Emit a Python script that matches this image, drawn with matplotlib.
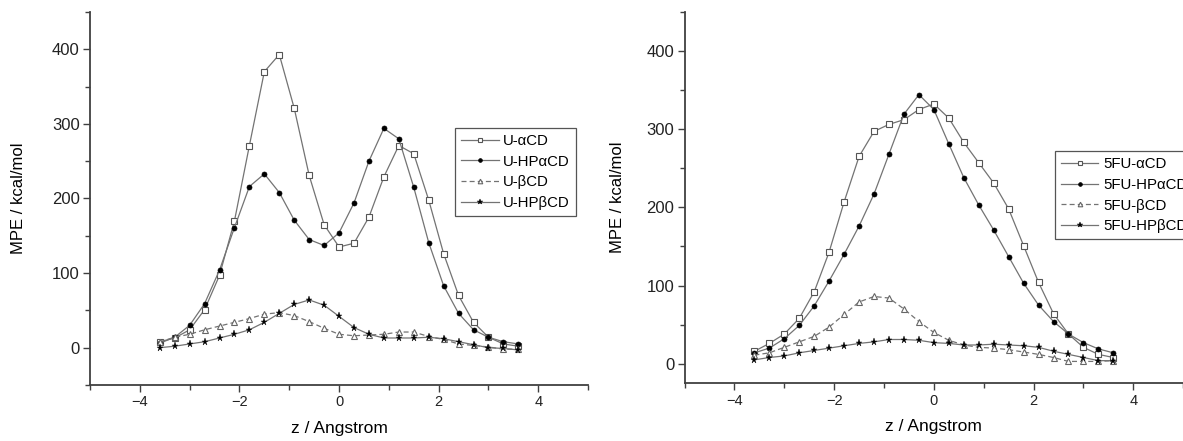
import numpy as np
import matplotlib
matplotlib.use("Agg")
import matplotlib.pyplot as plt
from matplotlib.ticker import MultipleLocator

plt.rcParams["font.family"] = ["Liberation Sans", "DejaVu Sans"]

# z positions shared by every series (Angstrom)
z = [-3.6, -3.3, -3.0, -2.7, -2.4, -2.1, -1.8, -1.5, -1.2, -0.9, -0.6, -0.3, 0.0,
     0.3, 0.6, 0.9, 1.2, 1.5, 1.8, 2.1, 2.4, 2.7, 3.0, 3.3, 3.6]

# uracil complexes
u_acd = [8, 13, 24, 51, 97, 170, 271, 370, 393, 321, 231, 165, 135,
         140, 175, 229, 271, 260, 198, 126, 70, 34, 14, 5, 2]
u_hpacd = [6, 14, 30, 59, 104, 161, 216, 233, 208, 171, 145, 137, 154,
           194, 250, 294, 280, 215, 141, 83, 46, 24, 14, 8, 5]
u_bcd = [8, 14, 18, 24, 29, 34, 39, 45, 47, 43, 35, 26, 18,
         16, 17, 18, 21, 21, 15, 11, 5, 3, 1, -2, -2]
u_hpbcd = [0, 2, 5, 8, 13, 18, 24, 34, 46, 58, 64, 57, 42,
           27, 18, 13, 13, 13, 14, 12, 8, 4, 0, -1, -3]

# 5-fluorouracil complexes
fu_acd = [16, 26, 38, 58, 92, 143, 207, 265, 297, 306, 312, 325, 332,
          314, 283, 257, 231, 198, 151, 104, 64, 38, 21, 12, 8]
fu_hpacd = [14, 20, 32, 49, 74, 106, 140, 176, 217, 268, 319, 344, 325,
            281, 238, 203, 171, 137, 103, 75, 54, 38, 27, 19, 14]
fu_bcd = [11, 14, 21, 28, 35, 47, 63, 79, 86, 84, 70, 54, 40,
          30, 24, 21, 20, 18, 15, 12, 8, 3, 3, 3, 4]
fu_hpbcd = [5, 8, 10, 14, 17, 20, 23, 26, 28, 31, 31, 30, 27,
            26, 24, 24, 25, 24, 23, 21, 16, 12, 8, 4, 4]

left_labels = ["U-\u03b1CD", "U-HP\u03b1CD", "U-\u03b2CD", "U-HP\u03b2CD"]
right_labels = ["5FU-\u03b1CD", "5FU-HP\u03b1CD", "5FU-\u03b2CD", "5FU-HP\u03b2CD"]

LINE = "#737373"
AXIS = "#404040"

styles = [
    dict(marker="s", mfc="white", mec="#555555", ms=3.8, mew=0.8, ls="-"),
    dict(marker="o", mfc="black", mec="black", ms=3.6, mew=0.5, ls="-"),
    dict(marker="^", mfc="white", mec="#666666", ms=4.4, mew=0.8, ls=(0, (4, 2.5))),
    dict(marker="*", mfc="black", mec="black", ms=5.2, mew=0.3, ls="-"),
]


def style_axes(ax, ylim, ylabel_x):
    ax.set_xlim(-5, 5)
    ax.set_ylim(*ylim)
    ax.spines["top"].set_visible(False)
    ax.spines["right"].set_visible(False)
    for s in ("left", "bottom"):
        ax.spines[s].set_color(AXIS)
        ax.spines[s].set_linewidth(1.3)
    ax.xaxis.set_major_locator(MultipleLocator(2))
    ax.xaxis.set_minor_locator(MultipleLocator(1))
    ax.yaxis.set_major_locator(MultipleLocator(100))
    ax.yaxis.set_minor_locator(MultipleLocator(50))
    ax.tick_params(which="both", direction="out", color=AXIS, width=1.0,
                   labelcolor="#222222")
    ax.tick_params(which="major", length=5, pad=2.5)
    ax.tick_params(which="minor", length=3.5)
    ax.tick_params(axis="x", labelsize=10.5)
    ax.tick_params(axis="y", labelsize=12)
    ax.set_xlabel("z / Angstrom", fontsize=12.5, labelpad=8)
    ax.set_ylabel("MPE / kcal/mol", fontsize=12)
    ax.yaxis.set_label_coords(ylabel_x, 0.5)


def draw(ax, series, labels):
    for ys, lab, st in zip(series, labels, styles):
        ax.plot(z, ys, color=LINE, lw=0.9, label=lab, clip_on=False, **st)


fig = plt.figure(figsize=(11.83, 4.41), dpi=100)
ax1 = fig.add_axes([0.0761, 0.127, 0.421, 0.8458])
ax2 = fig.add_axes([0.5787, 0.1308, 0.4214, 0.8426])

draw(ax1, [u_acd, u_hpacd, u_bcd, u_hpbcd], left_labels)
draw(ax2, [fu_acd, fu_hpacd, fu_bcd, fu_hpbcd], right_labels)

style_axes(ax1, (-50, 450), -0.128)
style_axes(ax2, (-25, 450), -0.12)

leg_kw = dict(fontsize=10.8, handlelength=2.5, handletextpad=0.3, labelspacing=0.45,
              borderpad=0.4, borderaxespad=0, fancybox=False, markerscale=0.75,
              framealpha=1, edgecolor="#555555")
l1 = ax1.legend(loc="upper left", bbox_to_anchor=(0.733, 0.689), **leg_kw)
l1.get_frame().set_linewidth(0.9)
l2 = ax2.legend(loc="upper left", bbox_to_anchor=(0.743, 0.625), **leg_kw)
l2.get_frame().set_linewidth(0.9)

fig.savefig("out.png", dpi=100)
